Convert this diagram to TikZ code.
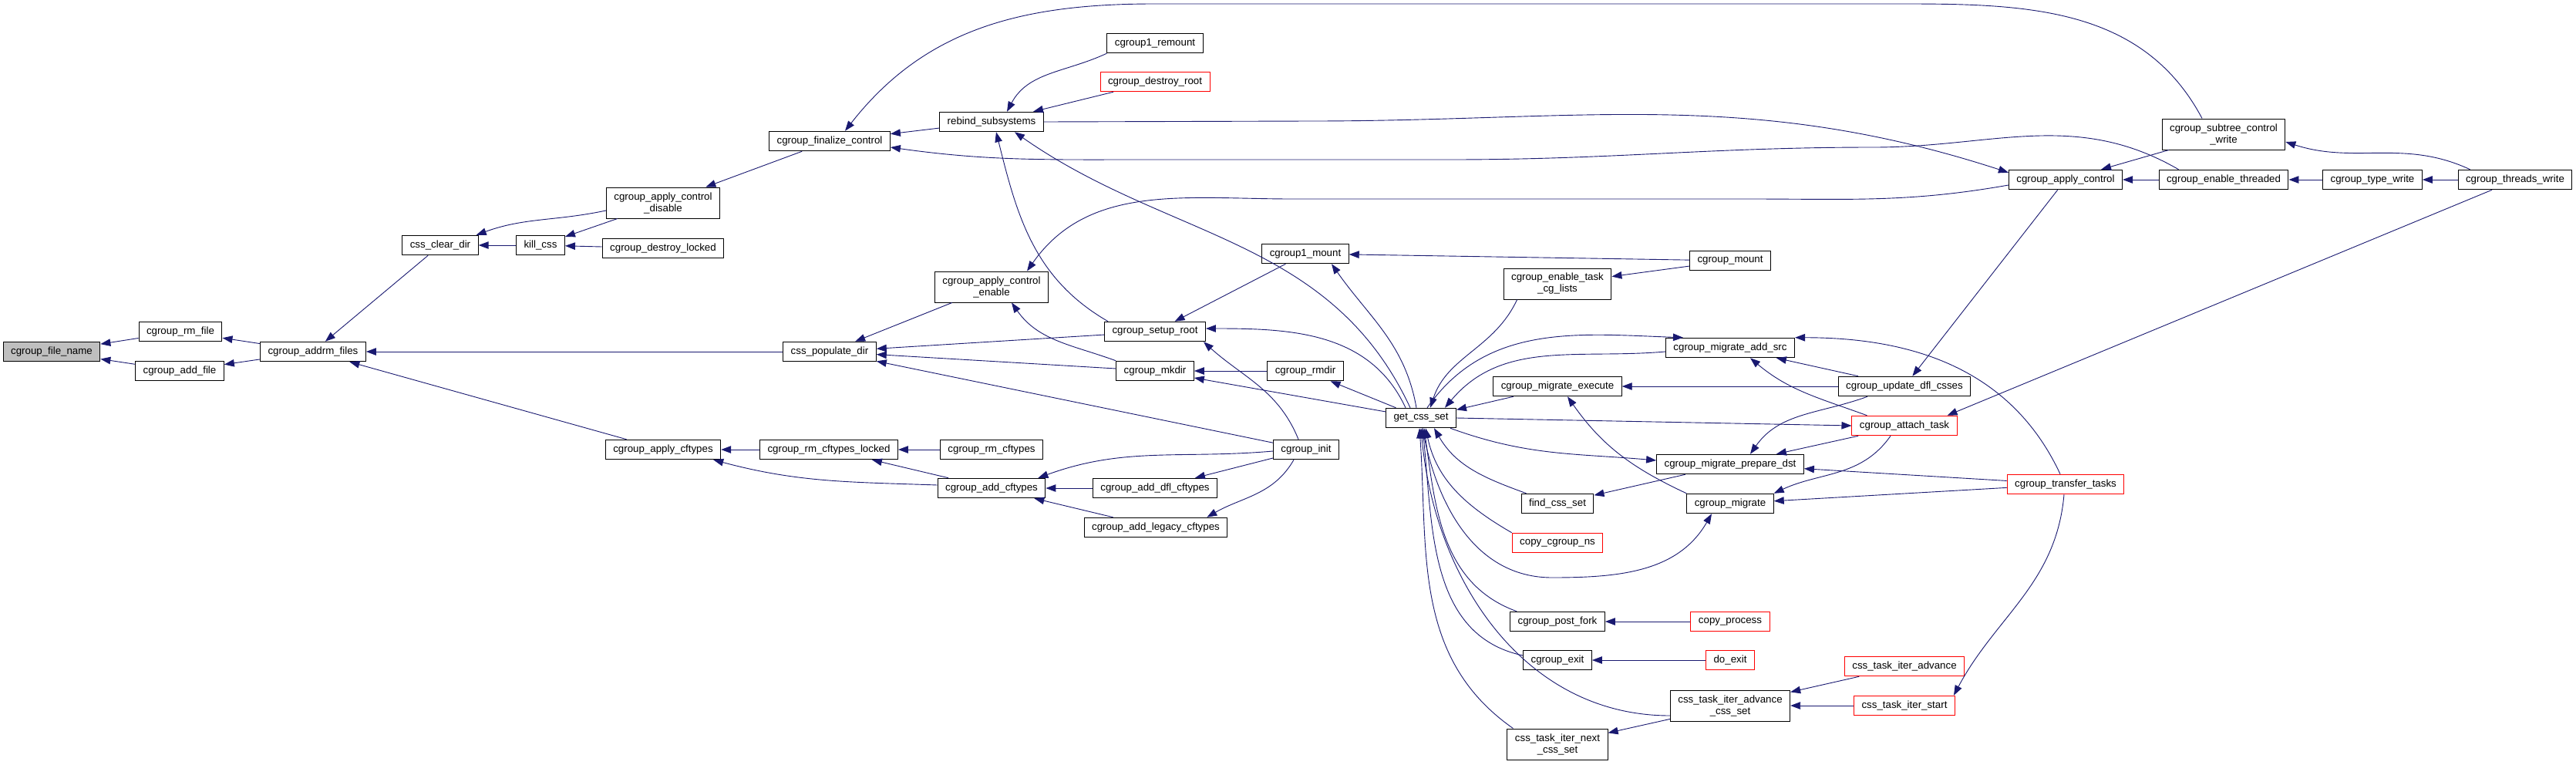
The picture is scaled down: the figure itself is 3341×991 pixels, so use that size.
\documentclass[tikz,border=0pt]{standalone}
\usepackage{fontspec}
\setmainfont{Liberation Sans}
\usetikzlibrary{arrows.meta}
\definecolor{calledge}{HTML}{191970}
\tikzset{
  fn node/.style={draw=black,fill=white,line width=1pt,inner xsep=10pt,inner ysep=5pt,minimum height=25.5pt,align=center,font=\fontsize{13.3}{15}\selectfont},
  fn tall/.style={fn node,minimum height=40pt},
  fn red/.style={fn node,draw=red},
  fn root/.style={fn node,fill=black!25},
  call edge/.style={{Triangle[length=13pt,width=9.5pt]}-,draw=calledge,line width=0.9pt},
}

\begin{document}
\begin{tikzpicture}[x=1pt,y=-1pt]
  \useasboundingbox (0,0) rectangle (3341,991);
  % left half
  \node[fn root] (fname) at (67,456) {cgroup\_file\_name};
  \node[fn node] (rmfile) at (234,430) {cgroup\_rm\_file};
  \node[fn node] (addfile) at (233,481) {cgroup\_add\_file};
  \node[fn node] (addrm) at (406,456) {cgroup\_addrm\_files};
  \node[fn node] (clrdir) at (571,318) {css\_clear\_dir};
  \node[fn node] (killcss) at (701,318) {kill\_css};
  \node[fn node] (dlocked) at (860,322) {cgroup\_destroy\_locked};
  \node[fn tall] (disable) at (860,263) {cgroup\_apply\_control\\\_disable};
  \node[fn node] (finalize) at (1076,183) {cgroup\_finalize\_control};
  \node[fn node] (applycft) at (860,583) {cgroup\_apply\_cftypes};
  \node[fn node] (rmcftl) at (1075,583) {cgroup\_rm\_cftypes\_locked};
  \node[fn node] (popdir) at (1076,456) {css\_populate\_dir};
  \node[fn node] (rebind) at (1286,158) {rebind\_subsystems};
  \node[fn node] (remount) at (1498,56) {cgroup1\_remount};
  \node[fn red] (droot) at (1498,106) {cgroup\_destroy\_root};
  \node[fn tall] (enable) at (1286,372) {cgroup\_apply\_control\\\_enable};
  \node[fn node] (mount1) at (1693,329) {cgroup1\_mount};
  \node[fn node] (setuproot) at (1498,430) {cgroup\_setup\_root};
  \node[fn node] (mkdir) at (1498,481) {cgroup\_mkdir};
  \node[fn node] (rmdir) at (1693,481) {cgroup\_rmdir};
  \node[fn node] (getcss) at (1843,542) {get\_css\_set};
  \node[fn node] (rmcft) at (1286,583) {cgroup\_rm\_cftypes};
  \node[fn node] (init) at (1694,583) {cgroup\_init};
  \node[fn node] (addcft) at (1286,633) {cgroup\_add\_cftypes};
  \node[fn node] (adddfl) at (1498,633) {cgroup\_add\_dfl\_cftypes};
  \node[fn node] (addleg) at (1499,684) {cgroup\_add\_legacy\_cftypes};
  % right half
  \node[fn tall] (subtree) at (2884,174) {cgroup\_subtree\_control\\\_write};
  \node[fn node] (applyctl) at (2679,233) {cgroup\_apply\_control};
  \node[fn node] (threaded) at (2884,233) {cgroup\_enable\_threaded};
  \node[fn node] (typewr) at (3077,233) {cgroup\_type\_write};
  \node[fn node] (threadswr) at (3262,233) {cgroup\_threads\_write};
  \node[fn node] (mount) at (2244,338) {cgroup\_mount};
  \node[fn tall] (tasklists) at (2020,368) {cgroup\_enable\_task\\\_cg\_lists};
  \node[fn node] (addsrc) at (2244,451) {cgroup\_migrate\_add\_src};
  \node[fn node] (execute) at (2020,501) {cgroup\_migrate\_execute};
  \node[fn node] (updfl) at (2470,501) {cgroup\_update\_dfl\_csses};
  \node[fn red] (attach) at (2470,552) {cgroup\_attach\_task};
  \node[fn node] (prepdst) at (2244,602) {cgroup\_migrate\_prepare\_dst};
  \node[fn red] (transfer) at (2679,628) {cgroup\_transfer\_tasks};
  \node[fn node] (findcss) at (2020,653) {find\_css\_set};
  \node[fn node] (migrate) at (2244,653) {cgroup\_migrate};
  \node[fn red] (cgns) at (2020,704) {copy\_cgroup\_ns};
  \node[fn node] (postfork) at (2020,806) {cgroup\_post\_fork};
  \node[fn red] (copyproc) at (2244,806) {copy\_process};
  \node[fn node] (cexit) at (2020,856) {cgroup\_exit};
  \node[fn red] (doexit) at (2244,856) {do\_exit};
  \node[fn red] (iteradv) at (2470,864) {css\_task\_iter\_advance};
  \node[fn tall] (advcss) at (2244,915) {css\_task\_iter\_advance\\\_css\_set};
  \node[fn red] (iterstart) at (2470,915) {css\_task\_iter\_start};
  \node[fn tall] (nextcss) at (2020,965) {css\_task\_iter\_next\\\_css\_set};

  \draw[call edge] (fname) -- (rmfile);
  \draw[call edge] (fname) -- (addfile);
  \draw[call edge] (rmfile) -- (addrm);
  \draw[call edge] (addfile) -- (addrm);
  \draw[call edge] (addrm) -- (clrdir);
  \draw[call edge] (addrm) -- (popdir);
  \draw[call edge] (addrm) -- (applycft);
  \draw[call edge] (clrdir) -- (killcss);
  \draw[call edge] ([xshift=-3pt]clrdir.north east) to[out=20,in=192] ([yshift=-10pt]disable.west);
  \draw[call edge] (killcss) -- (disable);
  \draw[call edge] (killcss) -- (dlocked);
  \draw[call edge] (disable) -- (finalize);
  \draw[call edge] (finalize) -- (rebind);
  \draw[call edge] ([xshift=20pt]finalize.north) to[out=52,in=180] (1497,5) -- (2470,5) to[out=0,in=118] ([xshift=-28pt]subtree.north);
  \draw[call edge] ([yshift=-8pt]finalize.east) to[out=-8,in=180] (1480,207) -- (1880,207) to[out=0,in=180] (2430,191) to[out=0,in=150] ([xshift=26pt]threaded.north west);
  \draw[call edge] ([xshift=20pt]rebind.north) to[out=62,in=205] (remount.south west);
  \draw[call edge] (rebind) -- (droot);
  \draw[call edge] ([xshift=6pt]rebind.south) to[out=-76,in=150] ([xshift=5pt]setuproot.north west);
  \draw[call edge] ([xshift=30pt]rebind.south) to[out=-35,in=115] ([xshift=-14pt]getcss.north);
  \draw[call edge] ([yshift=-4pt]applyctl.north west) to[out=162,in=0] (1700,157) -- (rebind.east);
  \draw[call edge] ([xshift=46pt]enable.north) to[out=55,in=180] (1676,258) -- (2268,258) to[out=0,in=190] ([yshift=-7pt]applyctl.west);
  \draw[call edge] (popdir) -- (enable);
  \draw[call edge] (popdir) -- (setuproot);
  \draw[call edge] (popdir) -- (mkdir);
  \draw[call edge] (popdir) -- (init);
  \draw[call edge] ([xshift=26pt]enable.south) to[out=-55,in=160] (mkdir.north west);
  \draw[call edge] (setuproot) -- (mount1);
  \draw[call edge] ([yshift=4pt]setuproot.east) to[out=0,in=115] ([xshift=-20pt]getcss.north);
  \draw[call edge] ([xshift=-3pt]setuproot.south east) to[out=-42,in=112] ([xshift=-10pt]init.north);
  \draw[call edge] (mkdir) -- (rmdir);
  \draw[call edge] (mkdir) -- (getcss);
  \draw[call edge] (rmdir) -- (getcss);
  \draw[call edge] ([xshift=34pt]mount1.south) to[out=-55,in=100] ([xshift=-6pt]getcss.north);
  \draw[call edge] (mount1) -- (mount);
  \draw[call edge] (applycft) -- (rmcftl);
  \draw[call edge] ([xshift=-10pt]applycft.south east) to[out=-15,in=178] ([yshift=4pt]addcft.west);
  \draw[call edge] (rmcftl) -- (rmcft);
  \draw[call edge] (rmcftl) -- (addcft);
  \draw[call edge] ([xshift=-10pt]addcft.north east) to[out=20,in=185] ([yshift=-2pt]init.west);
  \draw[call edge] (addcft) -- (adddfl);
  \draw[call edge] (addcft) -- (addleg);
  \draw[call edge] (adddfl) -- (init);
  \draw[call edge] ([xshift=-27pt]addleg.north east) to[out=30,in=-120] ([xshift=-16pt]init.south);

  \draw[call edge] (applyctl) -- (threaded);
  \draw[call edge] (threaded) -- (typewr);
  \draw[call edge] (typewr) -- (threadswr);
  \draw[call edge] (applyctl) -- (subtree);
  \draw[call edge] ([yshift=-10pt]subtree.east) to[out=-18,in=155] ([xshift=16pt]threadswr.north west);
  \draw[call edge] (updfl) -- (applyctl);
  \draw[call edge] ([xshift=-13pt]attach.north east) -- ([xshift=-30pt]threadswr.south);
  \draw[call edge] (tasklists) -- (mount);
  \draw[call edge] ([xshift=12pt]getcss.north) to[out=72,in=-115] ([xshift=18pt]tasklists.south west);
  \draw[call edge] ([xshift=-15pt]getcss.north east) to[out=50,in=185] ([yshift=-5pt]addsrc.west);
  \draw[call edge] ([xshift=23pt]addsrc.north west) to[out=178,in=55] ([xshift=8pt]getcss.north);
  \draw[call edge] (getcss) -- (execute);
  \draw[call edge] (attach.west) -- (getcss.east);
  \draw[call edge] ([yshift=5pt]prepdst.west) to[out=175,in=-20] ([xshift=-8pt]getcss.south east);
  \draw[call edge] ([xshift=17pt]getcss.south) to[out=-60,in=160] ([xshift=7pt]findcss.north west);
  \draw[call edge] (findcss) -- (prepdst);
  \draw[call edge] (execute) -- (updfl);
  \draw[call edge] ([xshift=13pt]execute.south) to[out=-55,in=155] (migrate.north west);
  \draw[call edge] (addsrc) -- (updfl);
  \draw[call edge] ([xshift=26pt]addsrc.south) to[out=-40,in=160] ([xshift=20pt]attach.north west);
  \draw[call edge] (addsrc.north east) to[out=0,in=115] ([xshift=-7pt]transfer.north);
  \draw[call edge] ([xshift=26pt]prepdst.north) to[out=55,in=200] ([xshift=-48pt]updfl.south);
  \draw[call edge] (prepdst) -- (attach);
  \draw[call edge] (prepdst) -- (transfer);
  \draw[call edge] (migrate.north east) to[out=25,in=-125] ([xshift=-18pt]attach.south);
  \draw[call edge] (migrate) -- (transfer);
  \draw[call edge] ([xshift=-24pt]migrate.south) to[out=-120,in=0] (2013,749) to[out=180,in=-80] ([xshift=2pt]getcss.south);
  \draw[call edge] ([xshift=6pt]getcss.south) to[out=-78,in=150] (cgns.north west);
  \draw[call edge] ([xshift=4pt]getcss.south) to[out=-82,in=160] ([xshift=9pt]postfork.north west);
  \draw[call edge] ([xshift=2pt]getcss.south) to[out=-84,in=168] ([yshift=6pt]cexit.west);
  \draw[call edge] (getcss.south) to[out=-85,in=180] ([yshift=-13pt]advcss.west);
  \draw[call edge] ([xshift=-2pt]getcss.south) to[out=-86,in=145] ([xshift=8pt]nextcss.north west);
  \draw[call edge] (postfork) -- (copyproc);
  \draw[call edge] (cexit) -- (doexit);
  \draw[call edge] (nextcss) -- (advcss);
  \draw[call edge] (advcss) -- (iteradv);
  \draw[call edge] (advcss) -- (iterstart);
  \draw[call edge] ([xshift=-2pt]iterstart.north east) to[out=62,in=-95] ([xshift=-2pt]transfer.south);
\end{tikzpicture}
\end{document}
